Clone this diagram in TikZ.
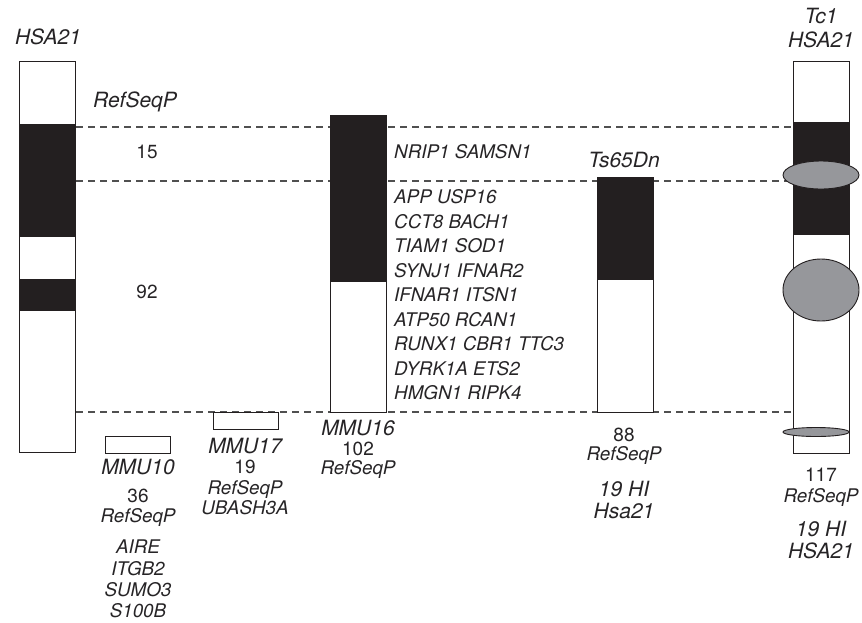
\documentclass[tikz,border=0pt]{standalone}
\usepackage{fontspec}
\setmainfont{TeX Gyre Heros}
\usetikzlibrary{positioning, backgrounds}
\definecolor{BandBlack}{RGB}{35,31,32}
\definecolor{TextGrey}{RGB}{38,36,38}
\definecolor{GuideGrey}{RGB}{80,80,80}
\definecolor{KnobGrey}{RGB}{150,151,155}

\tikzset{
  chrom/.style={draw=BandBlack, line width=1.4pt, fill=white, inner sep=0pt, anchor=north west},
  band/.style={fill=BandBlack},
  guide/.style={GuideGrey, line width=1.1pt, dash pattern=on 7pt off 5pt},
  knob/.style={draw=BandBlack, line width=0.9pt, fill=KnobGrey},
  hdr/.style={font=\fontsize{21}{23}\selectfont\itshape, text=TextGrey, inner sep=0pt, text height=15pt, text depth=0pt},
  lab/.style={font=\fontsize{18.8}{21}\selectfont\itshape, text=TextGrey, inner sep=0pt, text height=13.5pt, text depth=0pt},
  num/.style={font=\fontsize{19}{21}\selectfont, text=TextGrey, inner sep=0pt, text height=13.5pt, text depth=0pt},
}

\begin{document}
\begin{tikzpicture}[x=1pt, y=-1pt]
  \useasboundingbox (0,0) rectangle (862,622);

  % chromosomes
  \node[chrom, minimum width=56pt, minimum height=391pt] (hsa) at (19,61) {};
  \fill[band] (hsa.west |- 0,124) rectangle (hsa.east |- 0,237);
  \fill[band] (hsa.west |- 0,279) rectangle (hsa.east |- 0,311);

  \node[chrom, minimum width=65pt, minimum height=17pt] (mmu10) at (105,436) {};
  \node[chrom, minimum width=65pt, minimum height=17pt] (mmu17) at (213,412) {};

  \node[chrom, minimum width=56pt, minimum height=297pt] (mmu16) at (330,115) {};
  \fill[band] (mmu16.north west) rectangle (mmu16.east |- 0,282);

  \node[chrom, minimum width=56pt, minimum height=235pt] (ts) at (597,177) {};
  \fill[band] (ts.north west) rectangle (ts.east |- 0,280);

  \node[chrom, minimum width=56pt, minimum height=392pt] (tc) at (793,61) {};
  \fill[band] (tc.west |- 0,122) rectangle (tc.east |- 0,235);
  \draw[knob] (821,175) ellipse (38pt and 14pt);
  \draw[knob] (821,290) ellipse (38pt and 31pt);
  \draw[knob] (816,432) ellipse (33pt and 4.5pt);

  % dashed guides behind the boxes
  \begin{scope}[on background layer]
    \foreach \yy in {127,181,412}
      \draw[guide] (hsa.east |- 0,\yy) -- (tc.west |- 0,\yy);
  \end{scope}

  % HSA21 labels
  \node[hdr] (hsaName) at (48,37) {HSA21};
  \node[hdr] (hsaRef) at (135,100) {RefSeqP};
  \node[num] (hsaTop) at (147,152) {15};
  \node[num] (hsaBot) at (147,292) {92};

  % genes next to MMU16
  \node[lab, anchor=west] (geneTop) at (394,152) {NRIP1 SAMSN1};
  \foreach \g [count=\i from 0] in {APP USP16, CCT8 BACH1, TIAM1 SOD1,
      SYNJ1 IFNAR2, IFNAR1 ITSN1, ATP50 RCAN1, RUNX1 CBR1 TTC3,
      DYRK1A ETS2, HMGN1 RIPK4}
    \node[lab, anchor=west] (gene\i) at (394,197+24.5*\i) {\g};

  % MMU10
  \node[hdr] (mmu10Name) at (138,467) {MMU10};
  \node[num] (mmu10Num) at (138,496) {36};
  \node[lab] (mmu10Ref) at (138,516) {RefSeqP};
  \foreach \g [count=\i from 0] in {AIRE, ITGB2, SUMO3, S100B}
    \node[lab] (mmu10g\i) at (138,547+21.3*\i) {\g};

  % MMU17
  \node[hdr] (mmu17Name) at (245,446) {MMU17};
  \node[num] (mmu17Num) at (245,467) {19};
  \node[lab] (mmu17Ref) at (245,488) {RefSeqP};
  \node[lab] (mmu17Gene) at (245,508) {UBASH3A};

  % MMU16
  \node[hdr] (mmu16Name) at (358,428) {MMU16};
  \node[num] (mmu16Num) at (358,449) {102};
  \node[lab] (mmu16Ref) at (358,468) {RefSeqP};

  % Ts65Dn
  \node[hdr] (tsName) at (624,160) {Ts65Dn};
  \node[num] (tsNum) at (624,435) {88};
  \node[lab] (tsRef) at (624,454) {RefSeqP};
  \node[hdr] (tsHi) at (624,489) {19 HI};
  \node[hdr] (tsHsa) at (624,511) {Hsa21};

  % Tc1
  \node[hdr] (tcName) at (821,16) {Tc1};
  \node[hdr] (tcHsa) at (821,40) {HSA21};
  \node[num] (tcNum) at (821,475) {117};
  \node[lab] (tcRef) at (821,496) {RefSeqP};
  \node[hdr] (tcHi) at (821,529) {19 HI};
  \node[hdr] (tcHsaB) at (821,551) {HSA21};
\end{tikzpicture}
\end{document}
